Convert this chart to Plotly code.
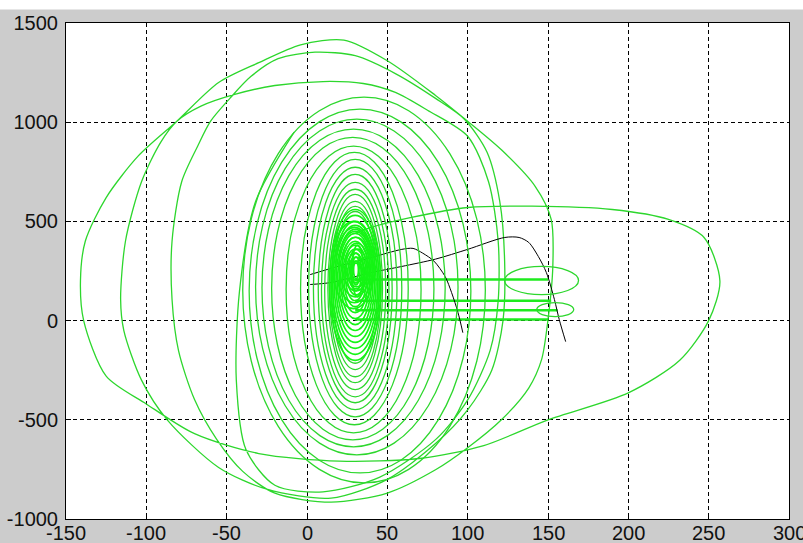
import plotly.graph_objects as go

# ---------------- axis ticks ----------------
x_ticks = [-150, -100, -50, 0, 50, 100, 150, 200, 250, 300]
x_tick_labels = ['-150', '-100', '-50', '0', '50', '100', '150', '200', '250', '300']
y_ticks = [-1000, -500, 0, 500, 1000, 1500]
y_tick_labels = ['-1000', '-500', '0', '500', '1000', '1500']

# ---------------- green trajectory: outer turns ----------------
# from the egg end back over the left side to the top peak
outer_x = [30, 40, 65, 100, 140, 190, 225, 247, 257, 250, 232, 200, 150, 110, 70, 20,
           -30, -70, -100, -125, -139, -141, -138, -125, -105, -81, -55, -30, -4]
outer_y = [440, 470, 520, 570, 577, 560, 510, 420, 200, 0, -200, -364, -500, -630, -695, -708,
           -670, -570, -420, -280, 0, 200, 400, 620, 830, 1005, 1200, 1300, 1390]
# from the top peak down the right side, spiralling inward
spiral_x = [23, 50, 80, 100, 121, 142, 152, 153, 150, 146, 138, 121, 100, 80, 50, 15,
            -20, -40, -56, -70, -80, -84, -84, -78, -68, -60, -48, -35, -18, 5, 30, 55, 80, 98,
            112, 120, 123, 122, 115, 100, 80, 50, 15, -25, -55, -87, -103, -114, -116,
            -113, -103, -91, -81, -66, -45, -20, 10, 35, 55, 75, 100,
            113, 119, 119, 114, 100, 80, 45, 10, -20, -38, -44, -42, -32, -8]
spiral_y = [1414, 1310, 1135, 1005, 861, 677, 510, 273, 5, -197, -340, -500, -641, -752, -869, -915,
            -870, -760, -601, -398, -150, 106, 400, 700, 880, 1005, 1120, 1230, 1320, 1353, 1335, 1245, 1120, 1015,
            850, 600, 300, 0, -250, -450, -620, -800, -895, -850, -740, -500, -300, -50, 106,
            400, 700, 900, 1005, 1081, 1140, 1185, 1205, 1195, 1150, 1060, 929,
            700, 400, 100, -150, -400, -600, -790, -863, -830, -650, -300, 150, 600, 950]

# ---------------- nested inner loops (left, right, bottom, top) ----------------
loop_left = [-40, -36, -32, -28, -22, -13, -4, 1, 4, 7, 9, 11, 13, 14, 15, 16]
loop_right = [111, 102, 94, 86, 79, 71, 63, 59, 56, 53, 51, 49, 47, 46, 45, 44]
loop_bottom = [-818, -768, -677, -636, -601, -566, -525, -485, -449, -414, -384, -348, -313, -283, -247, -215]
loop_top = [1126, 1066, 1015, 965, 924, 879, 848, 813, 773, 737, 697, 662, 636, 601, 576, 550]

# dense core loops
core_left = [14, 15, 16, 17, 18, 19, 20, 21, 22, 23, 24, 25, 26, 27, 16, 18, 20, 22, 24, 26,
             27, 28, 29, 28]
core_right = [46, 45, 44, 43, 42, 41, 40, 39, 38, 37, 36, 36, 35, 34, 42, 41, 40, 39, 38, 37,
              34, 33, 32, 35]
core_bottom = [-200, -170, -140, -110, -80, -50, -20, 10, 40, 70, 100, 130, 160, 190, 60, 90, 120, 150, 170, 200,
               150, 180, 210, 120]
core_top = [560, 530, 500, 480, 460, 440, 420, 400, 380, 360, 340, 320, 300, 290, 500, 470, 450, 420, 390, 360,
            340, 320, 300, 380]

# horizontal excursions toward x = 150
band_y = [207, 100, 52, 5]
band_x_start = [30, 30, 30, 30]
band_x_end = [150, 152, 156, 150]

# small side loops near x = 150
side_left = [123, 143]
side_right = [169, 166]
side_bottom = [131, 20]
side_top = [273, 91]

# ---------------- black curves ----------------
black1_x = [2, 20, 40, 59, 66, 72, 79, 86, 90, 94, 97]
black1_y = [232, 275, 318, 359, 364, 340, 300, 222, 141, 40, -61]
black2_x = [2, 15, 40, 59, 80, 100, 123, 132, 138, 144, 149, 154, 157, 161]
black2_y = [182, 192, 242, 273, 310, 359, 419, 419, 394, 323, 242, 106, 5, -106]

GREEN = 'rgb(45,215,45)'
FONT = dict(family='Liberation Sans, Arial', size=20, color='#111')

path_x = outer_x + spiral_x
path_y = outer_y + spiral_y

fig = go.Figure()
fig.add_trace(go.Scatter(x=path_x, y=path_y, mode='lines',
                         line=dict(color=GREEN, width=1.3, shape='spline', smoothing=0.8),
                         hoverinfo='skip', showlegend=False))

for ys, xs, xe in zip(band_y, band_x_start, band_x_end):
    fig.add_trace(go.Scatter(x=[xs, xe], y=[ys, ys], mode='lines',
                             line=dict(color='rgb(30,235,30)', width=2.5),
                             hoverinfo='skip', showlegend=False))

fig.add_trace(go.Scatter(x=black1_x, y=black1_y, mode='lines',
                         line=dict(color='black', width=1, shape='spline', smoothing=0.8),
                         hoverinfo='skip', showlegend=False))
fig.add_trace(go.Scatter(x=black2_x, y=black2_y, mode='lines',
                         line=dict(color='black', width=1, shape='spline', smoothing=0.8),
                         hoverinfo='skip', showlegend=False))

shapes = []
for l, r, b, t in zip(loop_left, loop_right, loop_bottom, loop_top):
    shapes.append(dict(type='circle', xref='x', yref='y', x0=l, x1=r, y0=b, y1=t,
                       line=dict(color=GREEN, width=1.3), layer='above'))
for l, r, b, t in zip(core_left, core_right, core_bottom, core_top):
    shapes.append(dict(type='circle', xref='x', yref='y', x0=l, x1=r, y0=b, y1=t,
                       line=dict(color='rgb(20,245,20)', width=1.7), layer='above'))
for l, r, b, t in zip(side_left, side_right, side_bottom, side_top):
    shapes.append(dict(type='circle', xref='x', yref='y', x0=l, x1=r, y0=b, y1=t,
                       line=dict(color=GREEN, width=1.3), layer='above'))
# white strip at the very top of the window
shapes.append(dict(type='rect', xref='paper', yref='paper', x0=-0.2, x1=1.2,
                   y0=1.027, y1=1.2, fillcolor='white', line=dict(width=0), layer='above'))

# x tick labels placed just under the axis
annotations = [dict(x=v, y=0, xref='x', yref='paper', text=t, showarrow=False,
                    xanchor='center', yanchor='middle', yshift=-14, font=FONT)
               for v, t in zip(x_ticks, x_tick_labels)]

axis_common = dict(showgrid=True, gridcolor='black', gridwidth=1, griddash='4px,3px',
                   showline=True, linecolor='black', linewidth=1, mirror=True,
                   ticks='inside', ticklen=5, tickcolor='black', zeroline=False,
                   automargin=False, tickfont=FONT)

fig.update_layout(
    width=803, height=543,
    margin=dict(l=66, r=14, t=23, b=24),
    paper_bgcolor='#cccccc', plot_bgcolor='white',
    shapes=shapes, annotations=annotations,
    xaxis=dict(range=[-150, 300], tickvals=x_ticks, showticklabels=False, **axis_common),
    yaxis=dict(range=[-1000, 1500], tickvals=y_ticks, ticktext=y_tick_labels,
               ticklabelstandoff=3, **axis_common),
    showlegend=False,
)

fig.write_html('out.html', config={'displayModeBar': False},
               post_script="document.body.style.margin='0px';document.body.style.overflow='hidden';")
